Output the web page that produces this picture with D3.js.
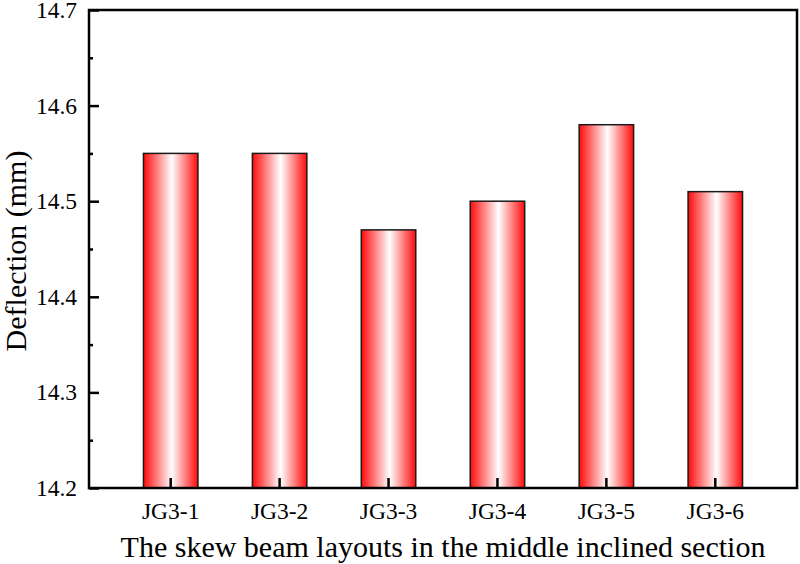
<!DOCTYPE html>
<html>
<head>
<meta charset="utf-8">
<script src="https://cdn.jsdelivr.net/npm/d3@7"></script>
<style>
  body { margin: 0; background: #fff; }
  svg text { font-family: "Liberation Serif", "Times New Roman", serif; fill: #000; }
</style>
</head>
<body>
<div id="grafico"></div>
<script>
// Dados do gráfico
const categorias = ["JG3-1", "JG3-2", "JG3-3", "JG3-4", "JG3-5", "JG3-6"];
const deflexao = [14.55, 14.55, 14.47, 14.50, 14.58, 14.51];
const ticksY = [14.2, 14.3, 14.4, 14.5, 14.6, 14.7];
const ticksMenoresY = [14.25, 14.35, 14.45, 14.55, 14.65];

const fonte = "Liberation Serif, Times New Roman, serif";

function criarGrafico() {
    const largura = 800, altura = 564;
    const margem = { top: 10, right: 3, bottom: 76, left: 89 };
    const w = largura - margem.left - margem.right;
    const h = altura - margem.top - margem.bottom;

    const svg = d3.select("#grafico").append("svg")
        .attr("width", largura)
        .attr("height", altura);

    // Gradiente horizontal vermelho-branco-vermelho
    const grad = svg.append("defs").append("linearGradient")
        .attr("id", "gradBarra")
        .attr("x1", "0%").attr("x2", "100%")
        .attr("y1", "0%").attr("y2", "0%");
    grad.append("stop").attr("offset", "0%").attr("stop-color", "#ff0a0a");
    grad.append("stop").attr("offset", "52%").attr("stop-color", "#ffffff");
    grad.append("stop").attr("offset", "100%").attr("stop-color", "#ff0a0a");

    const g = svg.append("g")
        .attr("transform", `translate(${margem.left},${margem.top})`);

    const x = d3.scaleBand().domain(categorias).range([0, w]).padding(0.5);
    const y = d3.scaleLinear().domain([14.2, 14.7]).range([h, 0]);

    // Barras
    g.selectAll(".bar")
        .data(categorias)
        .enter()
        .append("rect")
        .attr("class", "bar")
        .attr("x", d => x(d))
        .attr("width", x.bandwidth())
        .attr("y", (d, i) => y(deflexao[i]))
        .attr("height", (d, i) => h - y(deflexao[i]))
        .attr("fill", "url(#gradBarra)")
        .attr("stroke", "#1a1a1a")
        .attr("stroke-width", 1.5);

    // Eixo Y (ticks para dentro)
    const eixoY = g.append("g")
        .call(d3.axisLeft(y).tickValues(ticksY).tickFormat(d3.format(".1f"))
            .tickSizeInner(-10).tickSizeOuter(0).tickPadding(12));
    eixoY.attr("font-family", fonte).attr("font-size", 23.5);
    eixoY.selectAll("text").style("font-size", "23.5px");
    eixoY.selectAll("line").attr("stroke-width", 2.5);
    eixoY.select(".domain").remove();

    g.append("g")
        .call(d3.axisLeft(y).tickValues(ticksMenoresY).tickFormat("")
            .tickSizeInner(-4).tickSizeOuter(0))
        .call(s => s.select(".domain").remove())
        .selectAll("line").attr("stroke-width", 2.5);

    // Eixo X (ticks para dentro)
    const eixoX = g.append("g")
        .attr("transform", `translate(0,${h})`)
        .call(d3.axisBottom(x).tickSizeInner(-10).tickSizeOuter(0).tickPadding(14));
    eixoX.attr("font-family", fonte).attr("font-size", 23.5);
    eixoX.selectAll("text").style("font-size", "23.5px");
    eixoX.selectAll("line").attr("stroke-width", 2.5);
    eixoX.select(".domain").remove();

    // Moldura
    g.append("rect")
        .attr("x", 0).attr("y", 0)
        .attr("width", w).attr("height", h)
        .attr("fill", "none")
        .attr("stroke", "#000")
        .attr("stroke-width", 2.5);

    // Títulos dos eixos
    svg.append("text")
        .attr("x", margem.left + w / 2)
        .attr("y", 557)
        .attr("text-anchor", "middle")
        .style("font-size", "30px")
        .text("The skew beam layouts in the middle inclined section");

    svg.append("text")
        .attr("transform", `translate(26,${margem.top + h / 2 + 2}) rotate(-90)`)
        .attr("text-anchor", "middle")
        .style("font-size", "30px")
        .text("Deflection (mm)");
}

criarGrafico();
</script>
</body>
</html>
